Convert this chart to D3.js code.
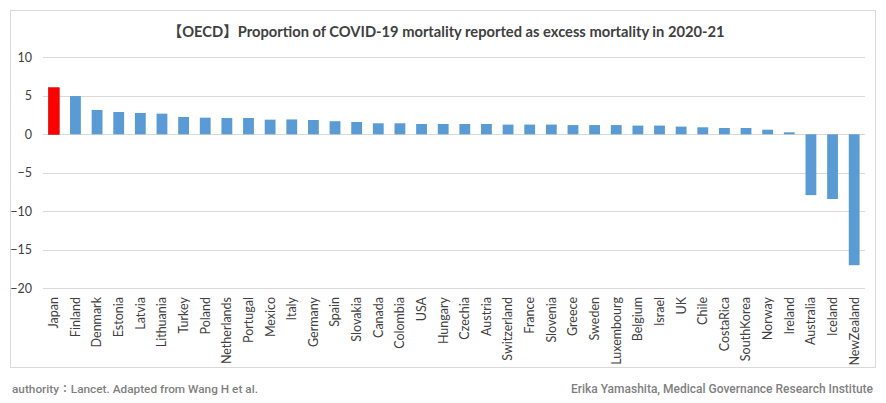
<!DOCTYPE html>
<html><head><meta charset="utf-8">
<script src="https://cdn.jsdelivr.net/npm/d3@7"></script>
<style>
html,body{margin:0;padding:0;background:#fff;}
svg{display:block;}
</style></head>
<body>
<svg id="chart" width="886" height="403"></svg>
<script>
const countries = ["Japan","Finland","Denmark","Estonia","Latvia","Lithuania","Turkey","Poland","Netherlands","Portugal","Mexico","Italy","Germany","Spain","Slovakia","Canada","Colombia","USA","Hungary","Czechia","Austria","Switzerland","France","Slovenia","Greece","Sweden","Luxembourg","Belgium","Israel","UK","Chile","CostaRica","SouthKorea","Norway","Ireland","Australia","Iceland","NewZealand"];
const values = [6.05,4.97,3.16,2.9,2.77,2.68,2.25,2.16,2.12,2.12,1.9,1.93,1.86,1.7,1.6,1.43,1.43,1.34,1.34,1.34,1.34,1.26,1.26,1.26,1.2,1.2,1.2,1.13,1.13,1.0,0.91,0.82,0.82,0.6,0.26,-7.9,-8.4,-17.0];
const yTicks = [10,5,0,-5,-10,-15,-20];
const highlight = "Japan";
const title = "【OECD】Proportion of COVID-19 mortality reported as excess mortality in 2020-21";
const sourceText = "authority：Lancet. Adapted from Wang H et al.";
const creditText = "Erika Yamashita, Medical Governance Research Institute";

const svg = d3.select("#chart");
const labelFont = "Lato, 'Noto Sans', sans-serif";

// chart frame
svg.append("rect").attr("x",10.5).attr("y",10.5).attr("width",865).attr("height",357)
  .attr("fill","#fff").attr("stroke","#d9d9d9").attr("stroke-width",1);

const x = d3.scaleBand().domain(countries).range([43,865]).paddingInner(0.5).paddingOuter(0.25);
const y = d3.scaleLinear().domain([-20,10]).range([288.3,57.3]);

// gridlines
svg.append("g").selectAll("line").data(yTicks).join("line")
  .attr("x1",43).attr("x2",865)
  .attr("y1",d=>Math.round(y(d))+0.5).attr("y2",d=>Math.round(y(d))+0.5)
  .attr("stroke","#d9d9d9").attr("stroke-width",1);

// y axis labels
const yAxis = d3.axisLeft(y).tickValues(yTicks).tickSize(0).tickPadding(0);
const ga = svg.append("g").attr("transform","translate(32,0)").call(yAxis);
ga.select(".domain").remove();
ga.selectAll("text").attr("font-family",labelFont).attr("font-size",12.5).attr("fill","#404040");

// bars
svg.append("g").selectAll("rect").data(countries).join("rect")
  .attr("x",d=>x(d)).attr("width",x.bandwidth())
  .attr("y",(d,i)=>y(Math.max(0,values[i])))
  .attr("height",(d,i)=>Math.abs(y(values[i])-y(0)))
  .attr("fill",d=>d===highlight?"#ff0000":"#5b9bd5")
  .attr("stroke",d=>d===highlight?"#c00000":"none").attr("stroke-width",0.6);

// category labels
const xAxis = d3.axisBottom(x).tickSize(0).tickPadding(0);
const gx = svg.append("g").attr("transform","translate(0,297)").call(xAxis);
gx.select(".domain").remove();
gx.selectAll("text")
  .attr("font-family",labelFont).attr("font-size",12.5).attr("fill","#404040")
  .attr("transform","rotate(-90)").attr("text-anchor","end")
  .attr("x",0).attr("y",0).attr("dx",0).attr("dy","0.35em");

// title
svg.append("text").attr("x",446).attr("y",37).attr("text-anchor","middle")
  .attr("font-family","Lato, 'Noto Sans CJK JP', sans-serif").attr("font-weight","bold")
  .attr("font-size",14.7).attr("fill","#404040").text(title);

// footers
svg.append("text").attr("x",12).attr("y",393)
  .attr("font-family","Roboto, 'Noto Sans CJK JP', sans-serif").attr("font-weight",500)
  .attr("font-size",11.8).attr("fill","#7f7f7f").text(sourceText);
svg.append("text").attr("x",873).attr("y",393).attr("text-anchor","end")
  .attr("font-family","Roboto, sans-serif").attr("font-weight",500)
  .attr("font-size",12).attr("fill","#7f7f7f").text(creditText);
</script>
</body></html>
